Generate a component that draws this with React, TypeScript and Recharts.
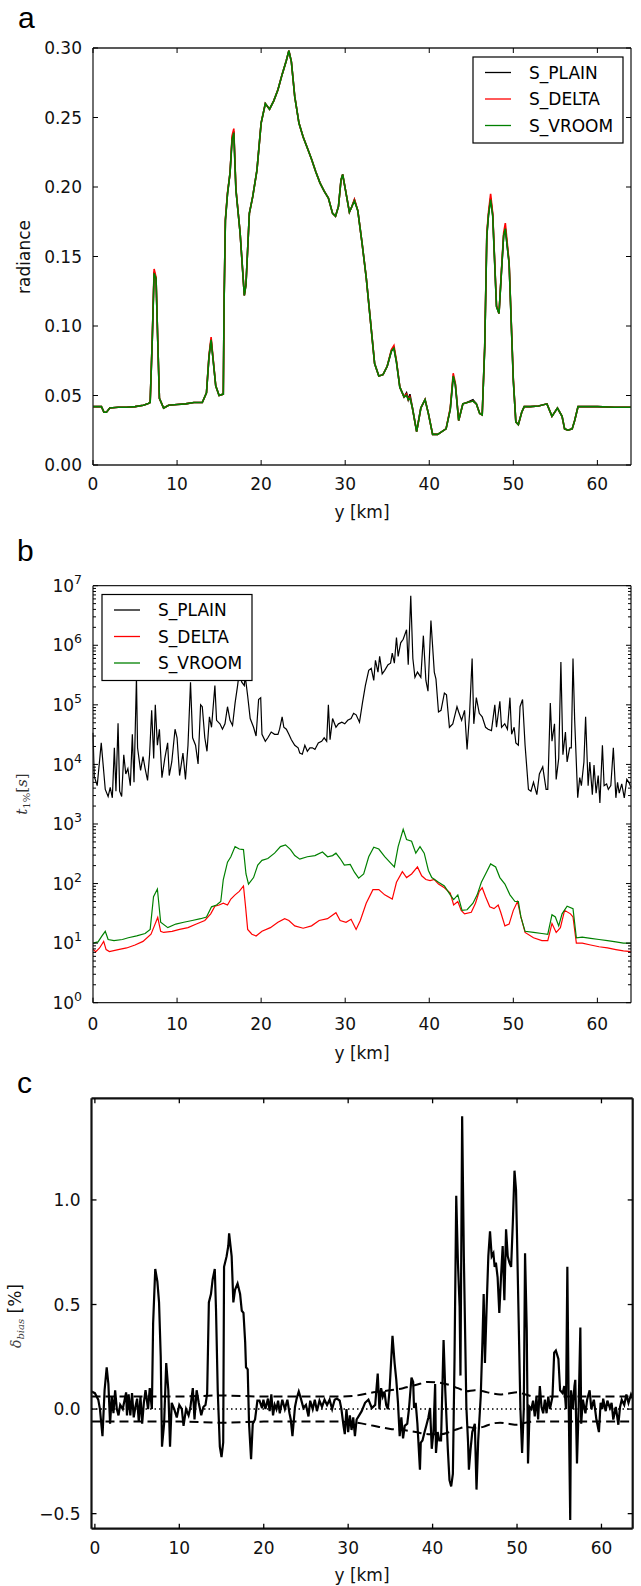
import React from 'react';
import { LineChart, Line, XAxis, YAxis, ReferenceLine } from 'recharts';

const FONT = "'DejaVu Sans', sans-serif";
const SERIF = "'DejaVu Serif', serif";

// ---------------- Panel a: radiance ----------------
const radianceKm = [
  0, 0.5, 1, 1.3, 1.6, 2, 3, 4, 5, 6,
  6.5, 6.8, 7.05, 7.27, 7.5, 7.7, 7.9, 8.4, 9, 10,
  11, 12, 13, 13.5, 13.8, 14.05, 14.3, 14.6, 15, 15.5,
  15.6, 15.75, 16, 16.3, 16.55, 16.75, 17, 17.5, 18, 18.2,
  18.6, 19, 19.5, 20, 20.5, 21, 21.5, 22, 22.5, 23,
  23.3, 23.6, 24, 24.5, 25, 25.5, 26, 26.5, 27, 27.5,
  28, 28.5, 28.85, 29.2, 29.5, 29.7, 30, 30.5, 30.8, 31.1,
  31.5, 32, 32.5, 33, 33.5, 34, 34.5, 35, 35.5, 35.8,
  36.1, 36.5, 37, 37.3, 37.5, 37.7, 38, 38.5, 39, 39.5,
  39.9, 40.4, 41, 41.5, 42, 42.5, 42.85, 43.1, 43.5, 44,
  44.5, 45.2, 45.6, 46, 46.3, 46.6, 46.85, 47.05, 47.3, 47.55,
  48, 48.3, 48.6, 48.85, 49.05, 49.5, 50, 50.3, 50.6, 51,
  51.3, 52, 53, 54, 54.6, 55.25, 55.8, 56.1, 56.5, 57,
  57.3, 57.7, 58, 60, 62, 64,
];
const radiancePlain = [
  0.042, 0.042, 0.042, 0.038, 0.038, 0.041, 0.0415, 0.0415, 0.042, 0.043,
  0.044, 0.045, 0.09, 0.139, 0.134, 0.09, 0.048, 0.041, 0.043, 0.0435,
  0.044, 0.045, 0.045, 0.052, 0.078, 0.09, 0.075, 0.057, 0.05, 0.051,
  0.12, 0.176, 0.195, 0.21, 0.235, 0.24, 0.198, 0.167, 0.122, 0.13,
  0.181, 0.193, 0.212, 0.246, 0.26, 0.256, 0.262, 0.27, 0.281, 0.291,
  0.298, 0.29, 0.265, 0.246, 0.236, 0.228, 0.22, 0.211, 0.203, 0.197,
  0.192, 0.181, 0.179, 0.186, 0.205, 0.209, 0.199, 0.182, 0.186, 0.191,
  0.183, 0.16, 0.135, 0.104, 0.073, 0.064, 0.065, 0.071, 0.082, 0.084,
  0.074, 0.056, 0.049, 0.052, 0.047, 0.051, 0.041, 0.024, 0.041, 0.047,
  0.037, 0.022, 0.022, 0.024, 0.026, 0.04, 0.063, 0.058, 0.032, 0.044,
  0.045, 0.047, 0.044, 0.037, 0.036, 0.085, 0.165, 0.18, 0.192, 0.18,
  0.114, 0.109, 0.14, 0.165, 0.17, 0.145, 0.061, 0.031, 0.029, 0.038,
  0.042, 0.042, 0.0425, 0.044, 0.035, 0.041, 0.035, 0.026, 0.025, 0.026,
  0.032, 0.042, 0.042, 0.042, 0.0415, 0.0415,
];
const radianceDelta = [
  0.042, 0.042, 0.042, 0.038, 0.038, 0.041, 0.0415, 0.0415, 0.042, 0.043,
  0.044, 0.045, 0.091, 0.141, 0.135, 0.09, 0.048, 0.041, 0.043, 0.0435,
  0.044, 0.045, 0.045, 0.052, 0.079, 0.092, 0.076, 0.057, 0.05, 0.051,
  0.12, 0.177, 0.196, 0.21, 0.237, 0.242, 0.199, 0.167, 0.122, 0.13,
  0.181, 0.193, 0.212, 0.246, 0.26, 0.256, 0.262, 0.27, 0.281, 0.291,
  0.298, 0.29, 0.265, 0.246, 0.236, 0.228, 0.22, 0.211, 0.203, 0.197,
  0.192, 0.181, 0.179, 0.186, 0.205, 0.209, 0.199, 0.182, 0.186, 0.191,
  0.183, 0.16, 0.135, 0.104, 0.073, 0.064, 0.065, 0.071, 0.083, 0.086,
  0.075, 0.056, 0.049, 0.051, 0.047, 0.049, 0.041, 0.024, 0.041, 0.047,
  0.037, 0.022, 0.022, 0.024, 0.026, 0.041, 0.066, 0.059, 0.032, 0.044,
  0.045, 0.046, 0.044, 0.037, 0.036, 0.086, 0.167, 0.182, 0.195, 0.181,
  0.115, 0.109, 0.141, 0.167, 0.174, 0.146, 0.062, 0.031, 0.029, 0.038,
  0.042, 0.042, 0.0425, 0.044, 0.035, 0.041, 0.035, 0.026, 0.025, 0.026,
  0.032, 0.042, 0.042, 0.042, 0.0415, 0.0415,
];
const radianceVroom = [
  0.042, 0.042, 0.042, 0.038, 0.038, 0.041, 0.0415, 0.0415, 0.042, 0.043,
  0.044, 0.045, 0.09, 0.138, 0.134, 0.09, 0.048, 0.041, 0.043, 0.0435,
  0.044, 0.045, 0.045, 0.052, 0.078, 0.09, 0.075, 0.057, 0.05, 0.051,
  0.12, 0.176, 0.195, 0.21, 0.234, 0.239, 0.198, 0.167, 0.122, 0.13,
  0.181, 0.193, 0.212, 0.246, 0.26, 0.256, 0.262, 0.27, 0.281, 0.291,
  0.298, 0.29, 0.265, 0.246, 0.236, 0.228, 0.22, 0.211, 0.203, 0.197,
  0.192, 0.181, 0.179, 0.186, 0.205, 0.209, 0.199, 0.182, 0.186, 0.19,
  0.183, 0.16, 0.135, 0.104, 0.073, 0.064, 0.065, 0.071, 0.082, 0.084,
  0.074, 0.056, 0.049, 0.05, 0.047, 0.048, 0.041, 0.024, 0.041, 0.047,
  0.037, 0.022, 0.022, 0.024, 0.026, 0.04, 0.064, 0.058, 0.032, 0.044,
  0.045, 0.046, 0.044, 0.037, 0.036, 0.085, 0.165, 0.18, 0.191, 0.179,
  0.114, 0.109, 0.14, 0.165, 0.17, 0.145, 0.061, 0.031, 0.029, 0.038,
  0.042, 0.042, 0.0425, 0.044, 0.035, 0.041, 0.035, 0.026, 0.025, 0.026,
  0.032, 0.042, 0.042, 0.042, 0.0415, 0.0415,
];
const radianceTicks = [0, 0.05, 0.1, 0.15, 0.2, 0.25, 0.3];
const kmTicks = [0, 10, 20, 30, 40, 50, 60];

// ---------------- Panel b: t_1% (log scale) ----------------
const tPlain: [number, number][] = [
  [0, 34000], [0.15, 6300], [0.5, 4400], [0.98, 23000], [1.46, 3800], [1.8, 2900], [2.05, 4100], [2.3, 2750], [2.54, 19000], [2.73, 3550],
  [2.98, 49000], [3.17, 3550], [3.41, 2900], [3.66, 14500], [3.9, 6900], [4.15, 8500], [4.44, 4400], [4.68, 32000], [4.88, 5000], [5.17, 290000],
  [5.3, 19000], [5.66, 7900], [5.95, 13500], [6.2, 8500], [6.49, 5400], [6.73, 14500], [6.98, 81000], [7.22, 12600], [7.41, 100000], [7.66, 21000],
  [7.9, 39000], [8.2, 6000], [8.54, 12600], [8.88, 23000], [9.07, 6500], [9.37, 11000], [9.76, 39000], [10.0, 28000], [10.3, 6500], [10.7, 15500],
  [11.0, 5600], [11.3, 21000], [11.6, 240000], [11.85, 28000], [12.2, 21000], [12.5, 10200], [12.8, 100000], [13.0, 93000], [13.3, 28000], [13.56, 16600],
  [13.85, 63000], [14.1, 42000], [14.5, 210000], [14.7, 55000], [15.1, 48000], [15.4, 39000], [15.7, 48000], [16.0, 93000], [16.3, 55000], [16.6, 45000],
  [16.9, 107000], [17.2, 210000], [17.4, 355000], [17.7, 240000], [18.0, 210000], [18.1, 310000], [18.4, 141000], [18.7, 59000], [19.1, 42000], [19.4, 30000],
  [19.7, 123000], [19.95, 132000], [20.1, 32000], [20.5, 24500], [20.8, 28000], [21.2, 35000], [21.6, 32000], [22.0, 32000], [22.2, 39000], [22.5, 63000],
  [22.7, 42000], [23.0, 39000], [23.3, 32000], [23.6, 26000], [24.0, 21000], [24.4, 19000], [24.6, 15500], [24.9, 14800], [25.2, 21000], [25.5, 16600],
  [25.8, 19000], [26.1, 19000], [26.4, 17800], [26.8, 23000], [27.2, 24500], [27.5, 28000], [27.8, 24500], [28.0, 100000], [28.2, 26000], [28.5, 59000],
  [28.9, 42000], [29.2, 48000], [29.6, 51000], [29.95, 48000], [30.3, 55000], [30.7, 59000], [31.0, 72000], [31.3, 68000], [31.7, 51000], [32.05, 107000],
  [32.4, 210000], [32.8, 380000], [33.1, 410000], [33.4, 257000], [33.6, 560000], [33.9, 355000], [34.1, 650000], [34.4, 330000], [34.7, 380000], [35.1, 470000],
  [35.4, 500000], [35.6, 740000], [35.85, 500000], [36.1, 1350000], [36.3, 650000], [36.6, 1100000], [36.9, 1260000], [37.3, 1820000], [37.5, 470000], [37.8, 6800000],
  [38.05, 600000], [38.3, 290000], [38.6, 355000], [39.0, 290000], [39.3, 1450000], [39.6, 257000], [39.85, 170000], [40.2, 2600000], [40.6, 355000], [40.8, 270000],
  [41.1, 76000], [41.4, 81000], [41.8, 158000], [42.05, 148000], [42.4, 42000], [42.8, 48000], [43.3, 93000], [43.5, 76000], [43.85, 55000], [44.2, 81000],
  [44.5, 17800], [44.8, 72000], [45.1, 600000], [45.3, 48000], [45.6, 132000], [45.95, 72000], [46.3, 63000], [46.7, 42000], [47.0, 39000], [47.4, 37000],
  [47.8, 100000], [48.0, 42000], [48.4, 115000], [48.6, 42000], [48.98, 48000], [49.3, 39000], [49.6, 132000], [49.8, 32000], [50.1, 42000], [50.3, 23000],
  [50.6, 21000], [50.8, 93000], [51.1, 123000], [51.4, 21000], [51.8, 3800], [52.1, 3550], [52.4, 5000], [52.8, 3100], [53.1, 6900], [53.5, 9100],
  [53.9, 3800], [54.1, 3800], [54.4, 107000], [54.6, 24500], [54.9, 48000], [55.1, 5600], [55.4, 12600], [55.66, 525000], [55.9, 14500], [56.2, 35000],
  [56.4, 11000], [56.7, 19000], [56.9, 19000], [57.1, 600000], [57.3, 55000], [57.66, 2750], [57.9, 6000], [58.1, 4400], [58.4, 11000], [58.6, 63000],
  [58.9, 4400], [59.1, 11000], [59.4, 3100], [59.6, 9800], [59.85, 3300], [60.1, 6500], [60.3, 2250], [60.6, 21000], [60.8, 4400], [61.1, 4700],
  [61.3, 3800], [61.6, 4400], [61.9, 19000], [62.2, 2750], [62.4, 5000], [62.6, 3300], [62.9, 4700], [63.2, 2750], [63.5, 5600], [63.75, 5000],
  [64, 4100],
];
const tDelta: [number, number][] = [
  [0, 7.8], [0.34, 7.2], [0.78, 8.3], [1.27, 10.7], [1.56, 7.8], [1.95, 7.2], [3.0, 7.8], [4.0, 8.3], [5.0, 9.3], [5.95, 10.7],
  [6.9, 14.1], [7.3, 19.5], [7.7, 27], [8.05, 15.8], [8.4, 15.1], [9.4, 15.8], [10.3, 17], [11.3, 18.2], [12.3, 20.9], [13.3, 24],
  [14.0, 31], [14.5, 41.7], [15.0, 43.7], [15.5, 46.8], [16.0, 43.7], [16.4, 55], [16.9, 64.6], [17.4, 74], [17.9, 91], [18.15, 40.7],
  [18.4, 17], [18.9, 14.1], [19.4, 13.2], [20.1, 15.8], [21.1, 18.2], [22.0, 22.4], [22.8, 25.7], [23.3, 24], [24.0, 19.5], [25.0, 17.8],
  [26.0, 19.5], [26.9, 24], [27.9, 25.7], [28.9, 32.4], [29.4, 24], [30.1, 22.4], [30.7, 25.1], [31.3, 17], [31.8, 24], [32.5, 46.8],
  [33.3, 79], [34.0, 79], [34.7, 64.6], [35.6, 55], [36.1, 105], [36.8, 158], [37.3, 126], [37.9, 145], [38.6, 190], [39.1, 135],
  [39.6, 117], [40.1, 112], [40.6, 117], [41.1, 98], [41.8, 85], [42.5, 69], [42.9, 43.7], [43.4, 50], [43.8, 35.5], [44.2, 31],
  [45.0, 33], [45.5, 46.8], [45.95, 74], [46.3, 85], [46.7, 60], [47.2, 40.7], [47.7, 38], [48.2, 43.7], [48.5, 33], [49.0, 19.5],
  [49.5, 20.9], [50.0, 35.5], [50.5, 50], [50.9, 27.5], [51.4, 15.1], [52.4, 12.3], [53.4, 11], [54.1, 11], [54.6, 21.4], [55.1, 15.1],
  [55.6, 18.2], [56.1, 35.5], [56.8, 31], [57.1, 27.5], [57.5, 10], [58.2, 10], [59.2, 9.3], [60.2, 8.7], [61.2, 8.3], [62.2, 7.8],
  [63.1, 7.4], [64, 7.2],
];
const tVroom: [number, number][] = [
  [0, 10], [0.6, 10.5], [1.07, 13.2], [1.46, 15.8], [1.8, 11.5], [2.5, 11], [3.5, 11.5], [4.2, 12.3], [5.2, 13.2], [6.2, 14.5],
  [6.8, 17], [7.2, 60], [7.66, 81], [8.05, 22.4], [8.9, 18.2], [9.85, 20.9], [10.8, 22.4], [11.8, 24], [12.8, 25.7], [13.5, 27.5],
  [14.1, 40.7], [14.7, 43.7], [15.2, 50], [15.5, 117], [16.0, 229], [16.4, 282], [16.9, 417], [17.4, 380], [17.9, 372], [18.2, 145],
  [18.5, 98], [19.1, 126], [19.6, 204], [20.1, 245], [20.8, 263], [21.6, 324], [22.3, 417], [22.9, 447], [23.5, 372], [24.0, 295],
  [24.6, 257], [25.5, 282], [26.4, 295], [27.3, 339], [27.9, 282], [28.5, 295], [28.9, 324], [29.4, 263], [29.9, 204], [30.6, 209],
  [31.1, 155], [31.6, 123], [32.2, 145], [32.8, 282], [33.4, 407], [34.0, 380], [34.7, 282], [35.5, 214], [35.85, 190], [36.3, 417],
  [36.9, 813], [37.3, 550], [37.9, 513], [38.4, 324], [38.9, 417], [39.4, 324], [39.9, 166], [40.3, 126], [41.1, 105], [41.8, 91],
  [42.5, 64.6], [42.9, 53.7], [43.4, 64.6], [43.9, 35.5], [44.5, 36.3], [45.2, 46.8], [45.7, 64.6], [46.2, 105], [46.7, 145], [47.3, 214],
  [47.9, 190], [48.4, 126], [49.0, 98], [49.6, 64.6], [50.2, 50], [50.6, 50], [50.9, 27.5], [51.4, 15.8], [52.4, 15.1], [53.4, 14.5],
  [54.1, 14.1], [54.6, 30], [55.0, 27.5], [55.4, 19.5], [55.8, 31], [56.4, 41.7], [57.1, 38], [57.5, 12.3], [58.2, 12.6], [59.2, 12],
  [60.2, 11.5], [61.2, 11], [62.2, 10.5], [63.1, 10], [64, 10],
];
const tMajorTicks = [1, 10, 100, 1000, 10000, 100000, 1000000, 10000000];
const tMinorFactors = [2, 3, 4, 5, 6, 7, 8, 9];

// ---------------- Panel c: delta_bias ----------------
const biasLine: [number, number][] = [
  [-0.4, 0.084], [0, 0.076], [0.4, 0.045], [0.6, 0], [0.9, -0.13], [1.15, 0.09], [1.4, 0.2], [1.6, 0.12], [1.8, -0.07], [2.0, 0.06],
  [2.2, -0.02], [2.4, 0.09], [2.6, 0], [2.8, -0.03], [3.0, 0.02], [3.3, 0], [3.5, 0.04], [3.7, 0.08], [3.8, -0.03], [4.0, 0.07],
  [4.2, -0.03], [4.4, 0.076], [4.6, -0.04], [4.8, 0.01], [5.0, 0.05], [5.2, -0.06], [5.4, 0.06], [5.6, -0.07], [5.8, 0.03], [6.0, 0.09],
  [6.3, 0], [6.5, 0.1], [6.75, 0], [6.9, 0.41], [7.15, 0.67], [7.4, 0.61], [7.6, 0.51], [7.8, 0.25], [7.95, -0.18], [8.2, -0.07],
  [8.45, 0.22], [8.7, 0.09], [8.9, -0.18], [9.1, 0.03], [9.4, 0], [9.7, -0.04], [10.0, 0.02], [10.3, 0], [10.5, -0.08], [10.8, 0],
  [11.1, -0.03], [11.3, 0.005], [11.6, 0.1], [11.8, -0.05], [12.05, 0.09], [12.3, 0.03], [12.6, -0.03], [12.85, 0.01], [13.1, 0.02], [13.3, 0.076],
  [13.5, 0.51], [13.75, 0.55], [13.95, 0.62], [14.2, 0.67], [14.35, 0.47], [14.55, 0.09], [14.8, -0.18], [15.0, -0.23], [15.2, -0.16], [15.3, 0.68],
  [15.6, 0.73], [15.8, 0.78], [15.9, 0.84], [16.2, 0.73], [16.4, 0.51], [16.6, 0.57], [16.9, 0.6], [17.2, 0.55], [17.4, 0.47], [17.6, 0.46],
  [17.8, 0.32], [17.9, 0.2], [18.1, 0.19], [18.26, -0.07], [18.5, -0.24], [18.7, -0.07], [18.97, -0.05], [19.25, 0.04], [19.5, 0.04], [19.8, 0.005],
  [19.96, 0.045], [20.2, 0], [20.5, 0.05], [20.7, -0.01], [20.9, 0.07], [21.1, -0.03], [21.3, 0.02], [21.5, 0], [21.7, 0.04], [21.9, -0.02],
  [22.2, 0.045], [22.5, 0], [22.8, 0.045], [23.05, -0.02], [23.2, -0.05], [23.4, -0.13], [23.7, 0.01], [23.9, 0.05], [24.15, 0.084], [24.4, 0.05],
  [24.7, 0.005], [25.0, 0.02], [25.3, -0.035], [25.5, 0.04], [25.8, 0], [26.05, 0.045], [26.3, -0.01], [26.6, 0.04], [26.9, 0.01], [27.2, 0.045],
  [27.5, 0.02], [27.8, 0.045], [28.1, 0], [28.4, 0.045], [28.66, 0.05], [29.0, 0.04], [29.2, 0], [29.45, -0.08], [29.6, -0.12], [29.8, 0],
  [30.0, -0.11], [30.2, -0.03], [30.4, -0.1], [30.6, -0.04], [30.8, -0.13], [31.0, -0.05], [31.3, -0.03], [31.6, -0.01], [32.0, 0.03], [32.4, 0.045],
  [32.8, 0.005], [33.2, 0.02], [33.5, 0.17], [33.7, 0], [33.9, 0.1], [34.1, 0.06], [34.3, 0.084], [34.5, 0.02], [34.7, 0], [34.9, 0.09],
  [35.25, 0.35], [35.5, 0.22], [35.7, 0.14], [35.9, 0.03], [36.1, -0.13], [36.3, -0.04], [36.5, -0.14], [36.7, -0.08], [37.0, -0.07], [37.2, 0],
  [37.5, 0.15], [37.7, 0.13], [37.8, 0.005], [38.0, 0.03], [38.2, -0.07], [38.5, -0.29], [38.6, -0.16], [38.8, -0.15], [39.05, -0.11], [39.25, -0.08],
  [39.5, -0.04], [39.7, 0.005], [39.9, -0.19], [40.1, -0.11], [40.3, 0.12], [40.4, -0.21], [40.6, -0.11], [40.8, -0.15], [41.0, -0.15], [41.3, 0.33],
  [41.5, 0.09], [41.8, -0.19], [42.0, -0.34], [42.2, -0.37], [42.4, -0.31], [42.6, 0.25], [42.8, 1.02], [43.0, 0.7], [43.2, 0.49], [43.3, 0.16],
  [43.5, 1.4], [43.7, 0.73], [44.0, 0.01], [44.2, -0.16], [44.3, -0.29], [44.5, -0.19], [44.7, -0.11], [45.0, -0.07], [45.2, -0.385], [45.4, -0.15],
  [45.7, 0.06], [45.9, 0.32], [46.05, 0.55], [46.2, 0.22], [46.4, 0.49], [46.6, 0.73], [46.8, 0.85], [47.0, 0.73], [47.2, 0.745], [47.35, 0.68],
  [47.5, 0.7], [47.7, 0.63], [47.9, 0.46], [48.1, 0.63], [48.3, 0.78], [48.5, 0.52], [48.7, 0.86], [48.9, 0.73], [49.1, 0.7], [49.3, 0.68],
  [49.5, 0.89], [49.7, 1.14], [49.88, 1.05], [50.0, 0.82], [50.2, 0.41], [50.4, 0], [50.6, -0.21], [50.8, 0], [50.95, 0.745], [51.15, 0.38],
  [51.3, -0.26], [51.5, 0.01], [51.7, 0], [51.9, 0.04], [52.1, -0.035], [52.3, 0.06], [52.5, -0.05], [52.7, 0.11], [52.9, 0.01], [53.1, -0.02],
  [53.3, 0.045], [53.5, -0.02], [53.7, 0.06], [53.9, 0], [54.2, 0.06], [54.4, 0.27], [54.6, 0.28], [54.9, 0.24], [55.1, 0.09], [55.4, 0.076],
  [55.6, 0.11], [55.8, 0], [55.96, 0.68], [56.1, 0.09], [56.3, -0.53], [56.4, 0.09], [56.6, 0], [56.8, 0.11], [56.9, 0.14], [57.1, -0.26],
  [57.3, 0.01], [57.5, 0.39], [57.6, -0.07], [57.8, 0.045], [58.1, -0.02], [58.3, 0.045], [58.6, 0.09], [58.8, 0], [59.1, 0.045], [59.4, -0.05],
  [59.7, -0.11], [59.9, 0.03], [60.1, 0], [60.2, 0.05], [60.5, -0.01], [60.7, 0.04], [61.0, 0.005], [61.2, 0.03], [61.4, -0.05], [61.7, 0.01],
  [62.0, -0.075], [62.2, 0.01], [62.4, 0.045], [62.7, 0.02], [62.95, 0.07], [63.2, 0.03], [63.5, 0.07], [63.7, 0.05],
];
const biasUpper: [number, number][] = [
  [-0.4, 0.06], [5, 0.06], [10, 0.06], [15, 0.065], [20, 0.06], [25, 0.06], [29, 0.06], [31, 0.065], [33, 0.08], [35, 0.09],
  [36.5, 0.1], [38, 0.115], [39.5, 0.13], [41, 0.125], [42, 0.115], [43, 0.1], [44, 0.085], [45, 0.09], [46, 0.085], [47, 0.075],
  [48, 0.07], [49, 0.075], [50, 0.08], [51, 0.07], [52, 0.06], [56, 0.06], [60, 0.06], [63.7, 0.06],
];
const biasLower: [number, number][] = [
  [-0.4, -0.06], [5, -0.06], [10, -0.06], [15, -0.065], [20, -0.06], [25, -0.06], [29, -0.06], [31, -0.065], [33, -0.08], [35, -0.095],
  [36.5, -0.1], [38, -0.11], [39.5, -0.12], [41, -0.12], [42, -0.11], [43, -0.095], [44, -0.085], [45, -0.09], [46, -0.085], [47, -0.07],
  [48, -0.065], [49, -0.07], [50, -0.075], [51, -0.065], [52, -0.06], [56, -0.06], [60, -0.06], [63.7, -0.06],
];
const biasTicks = [-0.5, 0, 0.5, 1.0];

// ---------------- helpers ----------------
const toRows = (pts: [number, number][]) => pts.map(([x, v]) => ({ x, v }));
const radianceRows = radianceKm.map((x, i) => ({
  x,
  plain: radiancePlain[i],
  delta: radianceDelta[i],
  vroom: radianceVroom[i],
}));
const tMinorTicks: number[] = [];
tMajorTicks.slice(0, -1).forEach((d) => tMinorFactors.forEach((f) => tMinorTicks.push(d * f)));
const tAllTicks = [...tMajorTicks, ...tMinorTicks].sort((a, b) => a - b);
const isDecade = (v: number) => Math.abs(Math.log10(v) - Math.round(Math.log10(v))) < 1e-6;

type Side = 'left' | 'right' | 'top' | 'bottom';
interface TickCfg {
  side: Side;
  major?: (v: number) => boolean;
  label?: (v: number) => React.ReactNode;
  off?: number;
  fs?: number;
  sw?: number;
  majorLen?: number;
  minorLen?: number;
}
const makeTick = (cfg: TickCfg) => (p: any) => {
  const x = Number(p.x);
  const y = Number(p.y);
  const v = p.payload.value as number;
  const isMajor = cfg.major ? cfg.major(v) : true;
  const len = isMajor ? cfg.majorLen ?? 5 : cfg.minorLen ?? 3;
  let x2 = x;
  let y2 = y;
  if (cfg.side === 'left') x2 = x + len;
  if (cfg.side === 'right') x2 = x - len;
  if (cfg.side === 'top') y2 = y + len;
  if (cfg.side === 'bottom') y2 = y - len;
  const label = cfg.label && isMajor ? cfg.label(v) : null;
  const fs = cfg.fs ?? 17;
  const off = cfg.off ?? 11;
  return (
    <g>
      <line x1={x} y1={y} x2={x2} y2={y2} stroke="#000" strokeWidth={cfg.sw ?? 1} />
      {label !== null && cfg.side === 'left' && (
        <text x={x - off} y={y + fs * 0.36} textAnchor="end" fontSize={fs} fontFamily={FONT} fill="#111">
          {label}
        </text>
      )}
      {label !== null && cfg.side === 'bottom' && (
        <text x={x} y={y + off} textAnchor="middle" fontSize={fs} fontFamily={FONT} fill="#111">
          {label}
        </text>
      )}
    </g>
  );
};

const axisBase = { tickLine: false, tickSize: 0, tickMargin: 0, interval: 0 as const };

const LegendBox = ({ x, y }: { x: number; y: number }) => {
  const rows = [
    { name: 'S_PLAIN', color: '#000000' },
    { name: 'S_DELTA', color: '#ff0000' },
    { name: 'S_VROOM', color: '#008000' },
  ];
  return (
    <g>
      <rect x={x} y={y} width={150} height={86} fill="#fff" stroke="#000" strokeWidth={1.2} />
      {rows.map((r, i) => (
        <g key={r.name}>
          <line x1={x + 12} x2={x + 38} y1={y + 15.5 + i * 26.5} y2={y + 15.5 + i * 26.5} stroke={r.color} strokeWidth={1.3} />
          <text x={x + 56} y={y + 15.5 + i * 26.5 + 6} fontSize={17} fontFamily={FONT} fill="#000">
            {r.name}
          </text>
        </g>
      ))}
    </g>
  );
};

export default function App() {
  const frameA = { stroke: '#222', strokeWidth: 1.3 };
  const frameC = { stroke: '#111', strokeWidth: 2.2 };
  return (
    <div style={{ position: 'absolute', left: 0, top: 0, width: 641, height: 1586, background: '#fff', overflow: 'hidden' }}>
      {/* Panel a */}
      <div style={{ position: 'absolute', left: 0, top: 0 }}>
        <LineChart width={641} height={530} data={radianceRows} margin={{ top: 43, right: 5, bottom: 35, left: 53 }}>
          <XAxis dataKey="x" type="number" domain={[0, 64]} ticks={kmTicks} height={30} axisLine={frameA} {...axisBase}
            tick={makeTick({ side: 'bottom', label: (v) => String(v), off: 25 })} />
          <XAxis xAxisId="t" orientation="top" dataKey="x" type="number" domain={[0, 64]} ticks={kmTicks} height={5} axisLine={frameA} {...axisBase}
            tick={makeTick({ side: 'top' })} />
          <YAxis type="number" domain={[0, 0.3]} ticks={radianceTicks} width={40} axisLine={frameA} allowDataOverflow {...axisBase}
            tick={makeTick({ side: 'left', label: (v) => v.toFixed(2) })} />
          <YAxis yAxisId="r" orientation="right" type="number" domain={[0, 0.3]} ticks={radianceTicks} width={5} axisLine={frameA} allowDataOverflow {...axisBase}
            tick={makeTick({ side: 'right' })} />
          <Line dataKey="plain" stroke="#000" strokeWidth={1.6} dot={false} isAnimationActive={false} type="linear" />
          <Line dataKey="delta" stroke="#ff0000" strokeWidth={1.6} dot={false} isAnimationActive={false} type="linear" />
          <Line dataKey="vroom" stroke="#008000" strokeWidth={1.6} dot={false} isAnimationActive={false} type="linear" />
        </LineChart>
      </div>

      {/* Panel b */}
      <div style={{ position: 'absolute', left: 0, top: 540 }}>
        <LineChart width={641} height={520} margin={{ top: 40.7, right: 5, bottom: 27.3, left: 53 }}>
          <XAxis dataKey="x" type="number" domain={[0, 64]} ticks={kmTicks} height={30} axisLine={frameA} {...axisBase}
            tick={makeTick({ side: 'bottom', label: (v) => String(v), off: 27 })} />
          <XAxis xAxisId="t" orientation="top" dataKey="x" type="number" domain={[0, 64]} ticks={kmTicks} height={5} axisLine={frameA} {...axisBase}
            tick={makeTick({ side: 'top' })} />
          <YAxis dataKey="v" type="number" scale="log" domain={[1, 10000000]} ticks={tAllTicks} width={40} axisLine={frameA} allowDataOverflow {...axisBase}
            tick={makeTick({
              side: 'left',
              major: isDecade,
              label: (v) => (
                <>
                  <tspan>10</tspan>
                  <tspan dy={-8} fontSize={12.5}>{String(Math.round(Math.log10(v)))}</tspan>
                </>
              ),
            })} />
          <YAxis yAxisId="r" orientation="right" dataKey="v" type="number" scale="log" domain={[1, 10000000]} ticks={tAllTicks} width={5} axisLine={frameA} allowDataOverflow {...axisBase}
            tick={makeTick({ side: 'right', major: isDecade })} />
          <Line data={toRows(tPlain)} dataKey="v" stroke="#000" strokeWidth={1.2} dot={false} isAnimationActive={false} type="linear" />
          <Line data={toRows(tDelta)} dataKey="v" stroke="#ff0000" strokeWidth={1.2} dot={false} isAnimationActive={false} type="linear" />
          <Line data={toRows(tVroom)} dataKey="v" stroke="#008000" strokeWidth={1.2} dot={false} isAnimationActive={false} type="linear" />
        </LineChart>
      </div>

      {/* Panel c */}
      <div style={{ position: 'absolute', left: 0, top: 1060 }}>
        <LineChart width={641} height={526} margin={{ top: 33.3, right: 3.3, bottom: 27.3, left: 51.5 }}>
          <XAxis dataKey="x" type="number" domain={[-0.4, 63.7]} ticks={kmTicks} height={30} axisLine={frameC} allowDataOverflow {...axisBase}
            tick={makeTick({ side: 'bottom', label: (v) => String(v), off: 25, sw: 1.3 })} />
          <XAxis xAxisId="t" orientation="top" dataKey="x" type="number" domain={[-0.4, 63.7]} ticks={kmTicks} height={5} axisLine={frameC} allowDataOverflow {...axisBase}
            tick={makeTick({ side: 'top', sw: 1.3 })} />
          <YAxis dataKey="v" type="number" domain={[-0.572, 1.486]} ticks={biasTicks} width={40} axisLine={frameC} allowDataOverflow {...axisBase}
            tick={makeTick({ side: 'left', sw: 1.3, label: (v) => (v < 0 ? '\u2212' + Math.abs(v).toFixed(1) : v.toFixed(1)) })} />
          <YAxis yAxisId="r" orientation="right" dataKey="v" type="number" domain={[-0.572, 1.486]} ticks={biasTicks} width={5} axisLine={frameC} allowDataOverflow {...axisBase}
            tick={makeTick({ side: 'right', sw: 1.3 })} />
          <ReferenceLine y={0} stroke="#000" strokeWidth={1.5} strokeDasharray="1.5 3" />
          <Line data={toRows(biasUpper)} dataKey="v" stroke="#000" strokeWidth={2} strokeDasharray="9 5" dot={false} isAnimationActive={false} type="monotone" />
          <Line data={toRows(biasLower)} dataKey="v" stroke="#000" strokeWidth={2} strokeDasharray="9 5" dot={false} isAnimationActive={false} type="monotone" />
          <Line data={toRows(biasLine)} dataKey="v" stroke="#000" strokeWidth={2.2} dot={false} isAnimationActive={false} type="linear" />
        </LineChart>
      </div>

      {/* Overlay: panel letters, axis titles, legends */}
      <svg width={641} height={1586} style={{ position: 'absolute', left: 0, top: 0, pointerEvents: 'none' }}>
        <text x={18} y={28} fontSize={30} fontFamily="'Liberation Sans', Arial, sans-serif" fill="#000">a</text>
        <text x={17} y={561} fontSize={30} fontFamily="'Liberation Sans', Arial, sans-serif" fill="#000">b</text>
        <text x={17} y={1093} fontSize={30} fontFamily="'Liberation Sans', Arial, sans-serif" fill="#000">c</text>

        <text x={30} y={257} fontSize={17} fontFamily={FONT} textAnchor="middle" transform="rotate(-90 30 257)" fill="#111">radiance</text>
        <text x={362} y={518} fontSize={17} fontFamily={FONT} textAnchor="middle" fill="#111">y [km]</text>

        <text x={27} y={794} fontSize={15} fontFamily={SERIF} textAnchor="middle" transform="rotate(-90 27 794)" fill="#333">
          <tspan fontStyle="italic">t</tspan>
          <tspan dy={3} fontSize={10}>1%</tspan>
          <tspan dy={-3}>[</tspan>
          <tspan fontStyle="italic">s</tspan>
          <tspan>]</tspan>
        </text>
        <text x={362} y={1059} fontSize={17} fontFamily={FONT} textAnchor="middle" fill="#111">y [km]</text>

        <text x={21} y={1316} fontSize={17} fontFamily={FONT} textAnchor="middle" transform="rotate(-90 21 1316)" fill="#111">
          <tspan fontFamily={SERIF} fontStyle="italic" fontSize={14} fill="#444">δ</tspan>
          <tspan fontFamily={SERIF} fontStyle="italic" fontSize={10} dy={3} fill="#444">bias</tspan>
          <tspan dy={-3}> [%]</tspan>
        </text>
        <text x={362} y={1581} fontSize={17} fontFamily={FONT} textAnchor="middle" fill="#111">y [km]</text>

        <LegendBox x={473} y={57} />
        <LegendBox x={102} y={594.5} />
      </svg>
    </div>
  );
}
